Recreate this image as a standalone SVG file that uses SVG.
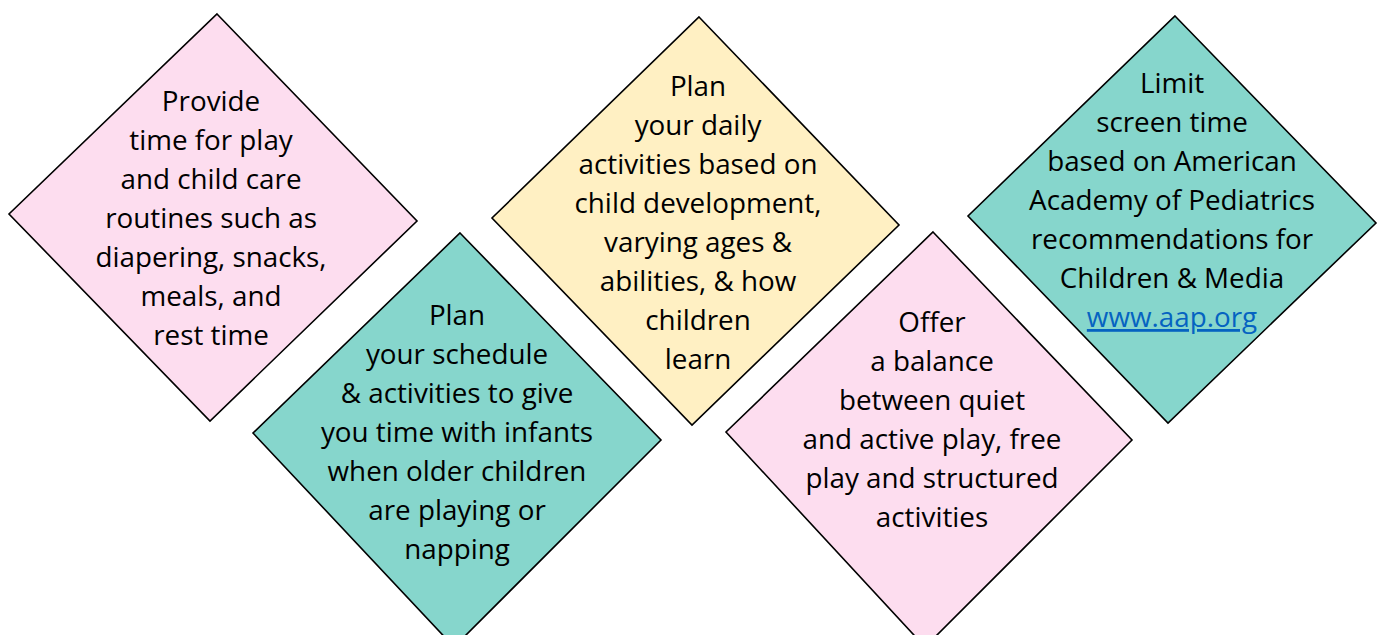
<svg xmlns="http://www.w3.org/2000/svg" width="1378" height="635" viewBox="0 0 1378 635">
<style>
.d{stroke:#000;stroke-width:1.6;stroke-linejoin:miter}
.pink{fill:#FDDDEF}
.teal{fill:#86D6CC}
.yel{fill:#FFF0C3}
text{font-family:"Open Sans",Lato,sans-serif;font-size:27.8px;fill:#000;text-anchor:middle}
.link{fill:#0563C1;text-decoration:underline}
</style>
<rect width="1378" height="635" fill="#fff"/>
<g id="node1">
<polygon class="d pink" points="217,14 417,221 210,421 9,214"/>
<text x="211"><tspan x="211" y="111">Provide</tspan><tspan x="211" y="150">time for play</tspan><tspan x="211" y="189">and child care</tspan><tspan x="211" y="228">routines such as</tspan><tspan x="211" y="267">diapering, snacks,</tspan><tspan x="211" y="306">meals, and</tspan><tspan x="211" y="345">rest time</tspan></text>
</g>
<g id="node2">
<polygon class="d teal" points="460,233 661,440 454,647 253,433"/>
<text x="457"><tspan x="457" y="325">Plan</tspan><tspan x="457" y="364">your schedule</tspan><tspan x="457" y="403">&amp; activities to give</tspan><tspan x="457" y="442">you time with infants</tspan><tspan x="457" y="481">when older children</tspan><tspan x="457" y="520">are playing or</tspan><tspan x="457" y="559">napping</tspan></text>
</g>
<g id="node3">
<polygon class="d yel" points="699,17 899,225 692,425 492,218"/>
<text x="698"><tspan x="698" y="96">Plan</tspan><tspan x="698" y="135">your daily</tspan><tspan x="698" y="174">activities based on</tspan><tspan x="698" y="213">child development,</tspan><tspan x="698" y="252">varying ages &amp;</tspan><tspan x="698" y="291">abilities, &amp; how</tspan><tspan x="698" y="330">children</tspan><tspan x="698" y="369">learn</tspan></text>
</g>
<g id="node4">
<polygon class="d pink" points="933,232 1132,440 925,647 726,432"/>
<text x="932"><tspan x="932" y="332">Offer</tspan><tspan x="932" y="371">a balance</tspan><tspan x="932" y="410">between quiet</tspan><tspan x="932" y="449">and active play, free</tspan><tspan x="932" y="488">play and structured</tspan><tspan x="932" y="527">activities</tspan></text>
</g>
<g id="node5">
<polygon class="d teal" points="1175,16 1376,223 1168,423 968,216"/>
<text x="1172"><tspan x="1172" y="93">Limit</tspan><tspan x="1172" y="132">screen time</tspan><tspan x="1172" y="171">based on American</tspan><tspan x="1172" y="210">Academy of Pediatrics</tspan><tspan x="1172" y="249">recommendations for</tspan><tspan x="1172" y="288">Children &amp; Media</tspan><tspan x="1172" y="327" class="link">www.aap.org</tspan></text>
</g>
<g id="connectors"></g>
</svg>
